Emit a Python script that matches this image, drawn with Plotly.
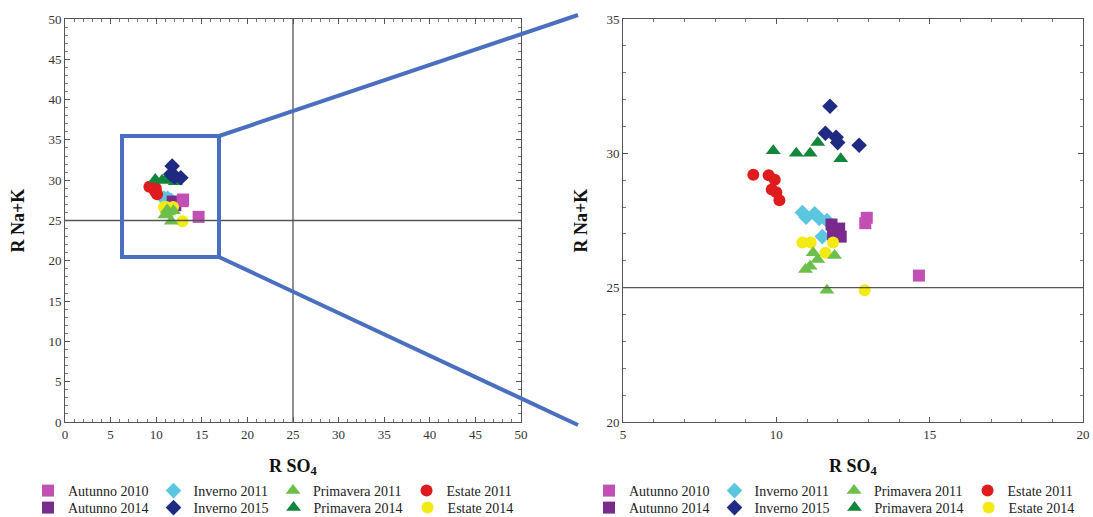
import plotly.graph_objects as go

# R SO4 / R Na+K values per sampling campaign
autunno_2010_x = [12.95, 12.9, 14.65]
autunno_2010_y = [27.6, 27.4, 25.45]
autunno_2014_x = [11.8, 12.05, 11.85, 12.1]
autunno_2014_y = [27.35, 27.2, 26.98, 26.9]
inverno_2011_x = [10.85, 10.97, 11.25, 11.4, 11.65, 11.5]
inverno_2011_y = [27.8, 27.62, 27.75, 27.58, 27.5, 26.9]
inverno_2015_x = [11.75, 11.6, 11.95, 12.0, 12.7]
inverno_2015_y = [31.75, 30.75, 30.6, 30.4, 30.3]
primavera_2011_x = [11.2, 11.35, 11.1, 10.95, 11.9, 11.65]
primavera_2011_y = [26.3, 26.05, 25.8, 25.68, 26.2, 24.9]
primavera_2014_x = [9.9, 10.65, 11.1, 11.35, 12.1]
primavera_2014_y = [30.1, 30.0, 30.0, 30.4, 29.8]
estate_2011_x = [9.25, 9.75, 9.95, 9.85, 10.0, 10.1]
estate_2011_y = [29.2, 29.18, 29.02, 28.65, 28.55, 28.25]
estate_2014_x = [10.85, 11.12, 11.6, 11.85, 12.88]
estate_2014_y = [26.68, 26.68, 26.3, 26.68, 24.9]

# name, x, y, symbol, colour, legend row, position in row (drawing order)
series = [
    ("Inverno 2011", inverno_2011_x, inverno_2011_y, "diamond", "#5BC6E0", 1, 2),
    ("Autunno 2014", autunno_2014_x, autunno_2014_y, "square", "#7A2A8C", 2, 1),
    ("Autunno 2010", autunno_2010_x, autunno_2010_y, "square", "#C250B4", 1, 1),
    ("Estate 2014", estate_2014_x, estate_2014_y, "circle", "#F2EA12", 2, 4),
    ("Primavera 2011", primavera_2011_x, primavera_2011_y, "triangle-up", "#6CC04A", 1, 3),
    ("Estate 2011", estate_2011_x, estate_2011_y, "circle", "#E01B1E", 1, 4),
    ("Primavera 2014", primavera_2014_x, primavera_2014_y, "triangle-up", "#12863A", 2, 3),
    ("Inverno 2015", inverno_2015_x, inverno_2015_y, "diamond", "#1F2A82", 2, 2),
]

FONT = "Liberation Serif"
W, H = 1093, 517
ML, MR, MT, MB = 65, 10, 19, 95
PW, PH = W - ML - MR, H - MT - MB

def px_x(p):
    return (p - ML) / PW

def px_y(p):
    return (H - MB - p) / PH

fig = go.Figure()

for panel, (xa, ya, legs) in enumerate([("x", "y", ("legend", "legend2")),
                                          ("x2", "y2", ("legend3", "legend4"))]):
    for name, xs, ys, sym, col, row, rank in series:
        fig.add_trace(go.Scatter(
            x=xs, y=ys, mode="markers", name=name,
            xaxis=xa, yaxis=ya, legend=legs[row - 1], legendrank=rank,
            marker=dict(symbol=sym, color=col, size=12 if sym != "triangle-up" else 13,
                        line=dict(width=0)),
        ))

axis_common = dict(
    showline=True, linecolor="#555", linewidth=1, mirror="allticks",
    ticks="inside", ticklen=5, tickcolor="#555", showgrid=False, zeroline=False,
    tickfont=dict(family=FONT, size=13, color="#333"),
)
title_font = dict(family=FONT, size=18, color="#111", weight="bold")

minor = dict(ticks="inside", ticklen=3, tickcolor="#777", dtick=1, showgrid=False)

fig.update_layout(
    width=W, height=H,
    margin=dict(l=ML, r=MR, t=MT, b=MB, autoexpand=False),
    plot_bgcolor="white", paper_bgcolor="white",
    font=dict(family=FONT),
    xaxis=dict(domain=[0, px_x(521)], range=[0, 50], dtick=5, minor=minor,
               title=dict(text="<b>R SO<sub>4</sub></b>", font=title_font, standoff=18),
               anchor="y", **axis_common),
    yaxis=dict(domain=[0, 1], range=[0, 50], dtick=5, minor=minor,
               title=dict(text="<b>R Na+K</b>", font=title_font, standoff=19),
               anchor="x", **axis_common),
    xaxis2=dict(domain=[px_x(623), 1], range=[5, 20], dtick=5, minor=minor,
                title=dict(text="<b>R SO<sub>4</sub></b>", font=title_font, standoff=18),
                anchor="y2", **axis_common),
    yaxis2=dict(domain=[0, 1], range=[20, 35], dtick=5, minor=minor,
                title=dict(text="<b>R Na+K</b>", font=title_font, standoff=14),
                anchor="x2", **axis_common),
)

legend_common = dict(orientation="h", xanchor="left", yanchor="middle",
                     bgcolor="rgba(0,0,0,0)", font=dict(family=FONT, size=14, color="#222"),
                     itemwidth=30, tracegroupgap=0)
fig.update_layout(
    legend=dict(x=px_x(28), y=px_y(491), **legend_common),
    legend2=dict(x=px_x(28), y=px_y(508), **legend_common),
    legend3=dict(x=px_x(589), y=px_y(491), **legend_common),
    legend4=dict(x=px_x(589), y=px_y(508), **legend_common),
)

ref_line = dict(color="#555", width=1.3)
# reference lines at 25
fig.add_shape(type="line", xref="x", yref="y", x0=25, x1=25, y0=0, y1=50, line=ref_line)
fig.add_shape(type="line", xref="x", yref="y", x0=0, x1=50, y0=25, y1=25, line=ref_line)
fig.add_shape(type="line", xref="x2", yref="y2", x0=5, x1=20, y0=25, y1=25, line=ref_line)

# zoom box on the overview panel and its connectors to the detail panel
blue = "#4A6FC0"
fig.add_shape(type="rect", xref="paper", yref="paper",
              x0=px_x(122), x1=px_x(219), y0=px_y(257), y1=px_y(136),
              line=dict(color=blue, width=4))
fig.add_shape(type="line", xref="paper", yref="paper",
              x0=px_x(219), y0=px_y(136), x1=px_x(578), y1=px_y(15),
              line=dict(color=blue, width=4))
fig.add_shape(type="line", xref="paper", yref="paper",
              x0=px_x(219), y0=px_y(257), x1=px_x(578), y1=px_y(425),
              line=dict(color=blue, width=4))

fig.write_html("out.html")
